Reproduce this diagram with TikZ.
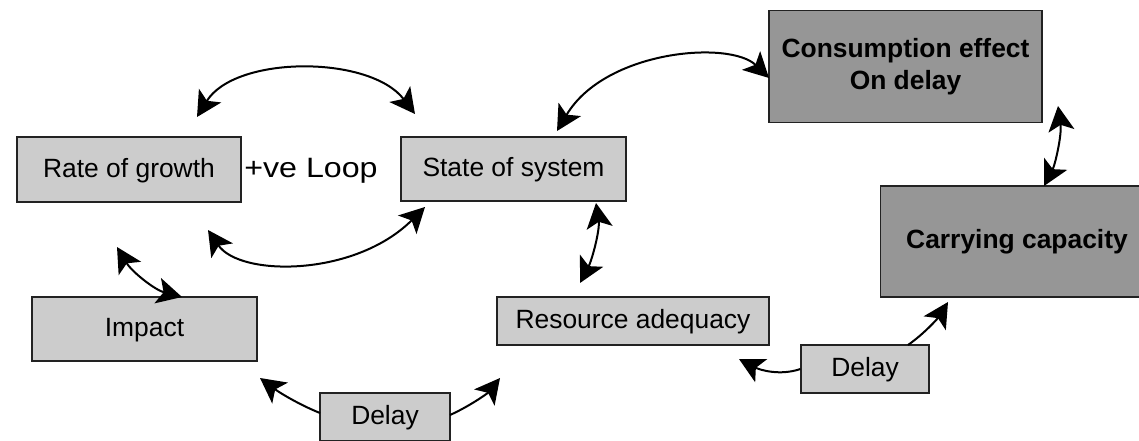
\documentclass[tikz,border=0pt]{standalone}
\usepackage{fontspec}
\setmainfont{Liberation Sans}
\usetikzlibrary{arrows.meta}
\definecolor{boxlight}{HTML}{CCCCCC}
\definecolor{boxdark}{HTML}{969696}
\definecolor{edge}{HTML}{222222}
\tikzset{
  head/.tip={Stealth[length=25pt 0,width=26pt 0,inset=6pt 0]}
}
\begin{document}
\begin{tikzpicture}[x=1pt,y=-1pt,
  lbox/.style={draw=edge, line width=1.2pt, fill=boxlight, inner sep=0pt,
    font=\fontsize{26.4}{32}\selectfont, text height=19.5pt, text depth=4.5pt},
  dbox/.style={draw=edge, line width=1.2pt, fill=boxdark, inner sep=0pt,
    font=\fontsize{26.4}{32}\selectfont\bfseries, align=center},
  link/.style={line width=2pt, -head},
  dlink/.style={line width=2pt, head-head}]
\useasboundingbox (0,0) rectangle (1139,441);
\clip (0,0) rectangle (1139,441);

% boxes
\node[lbox, minimum width=224pt, minimum height=65pt] (rate) at (129,169.5) {Rate of growth};
\node[lbox, minimum width=225pt, minimum height=64pt] (state) at (513.5,169) {State of system};
\node[lbox, minimum width=225pt, minimum height=64pt] (impact) at (144.5,329) {Impact};
\node[lbox, minimum width=272pt, minimum height=48pt] (resource) at (633,321) {Resource adequacy};
\node[lbox, minimum width=130pt, minimum height=48pt] (delayA) at (385,417) {Delay};
\node[lbox, minimum width=128pt, minimum height=48pt] (delayB) at (865,369) {Delay};
\node[dbox, minimum width=273pt, minimum height=112pt] (consume) at (905.5,66.5) {Consumption effect\\On delay};
\node[dbox, minimum width=273pt, minimum height=111pt] (carry) at (1017,241.5) {Carrying capacity};

% loop label
\node[anchor=base, inner sep=0pt, font=\fontsize{28}{32}\selectfont] (loop) at (311,177) {\scalebox{1.15}[1]{+ve Loop}};

% connector ends
\coordinate (rateTop) at (197,117);
\coordinate (stateTop) at (415,114);
\coordinate (rateBot) at (208,230);
\coordinate (stateBot) at (425,207);
\coordinate (rateLow) at (117,247);
\coordinate (impactTop) at (182,297);
\coordinate (stateUp) at (557,131);
\coordinate (consumeLeft) at (769,78);
\coordinate (stateLow) at (596,203);
\coordinate (resourceTop) at (580,283);
\coordinate (consumeLow) at (1058,106);
\coordinate (carryTop) at (1044,186);
\coordinate (delayBTop) at (908,345);
\coordinate (carryLow) at (948,302);
\coordinate (delayBLeft) at (delayB.west);
\coordinate (resourceLow) at (739,359);
\coordinate (delayALeft) at (320,413);
\coordinate (impactLow) at (260,378);
\coordinate (delayARight) at (450,415);
\coordinate (resourceLeft) at (500,378);

% connectors
\draw[dlink] (rateTop) .. controls (235,55) and (370,55) .. (stateTop);
\draw[dlink] (rateBot) .. controls (240,277) and (355,277) .. (stateBot);
\draw[dlink] (rateLow) .. controls (132,272) and (155,290) .. (impactTop);
\draw[dlink] (stateUp) .. controls (605,50) and (730,40) .. (consumeLeft);
\draw[dlink] (stateLow) .. controls (600,230) and (592,260) .. (resourceTop);
\draw[dlink] (consumeLow) .. controls (1062,135) and (1055,165) .. (carryTop);
\draw[link] (delayBTop) .. controls (925,333) and (938,318) .. (carryLow);
\draw[link] (delayBLeft) .. controls (780,376) and (760,370) .. (resourceLow);
\draw[link] (delayALeft) .. controls (300,405) and (280,393) .. (impactLow);
\draw[link] (delayARight) .. controls (470,406) and (488,393) .. (resourceLeft);
\end{tikzpicture}
\end{document}
